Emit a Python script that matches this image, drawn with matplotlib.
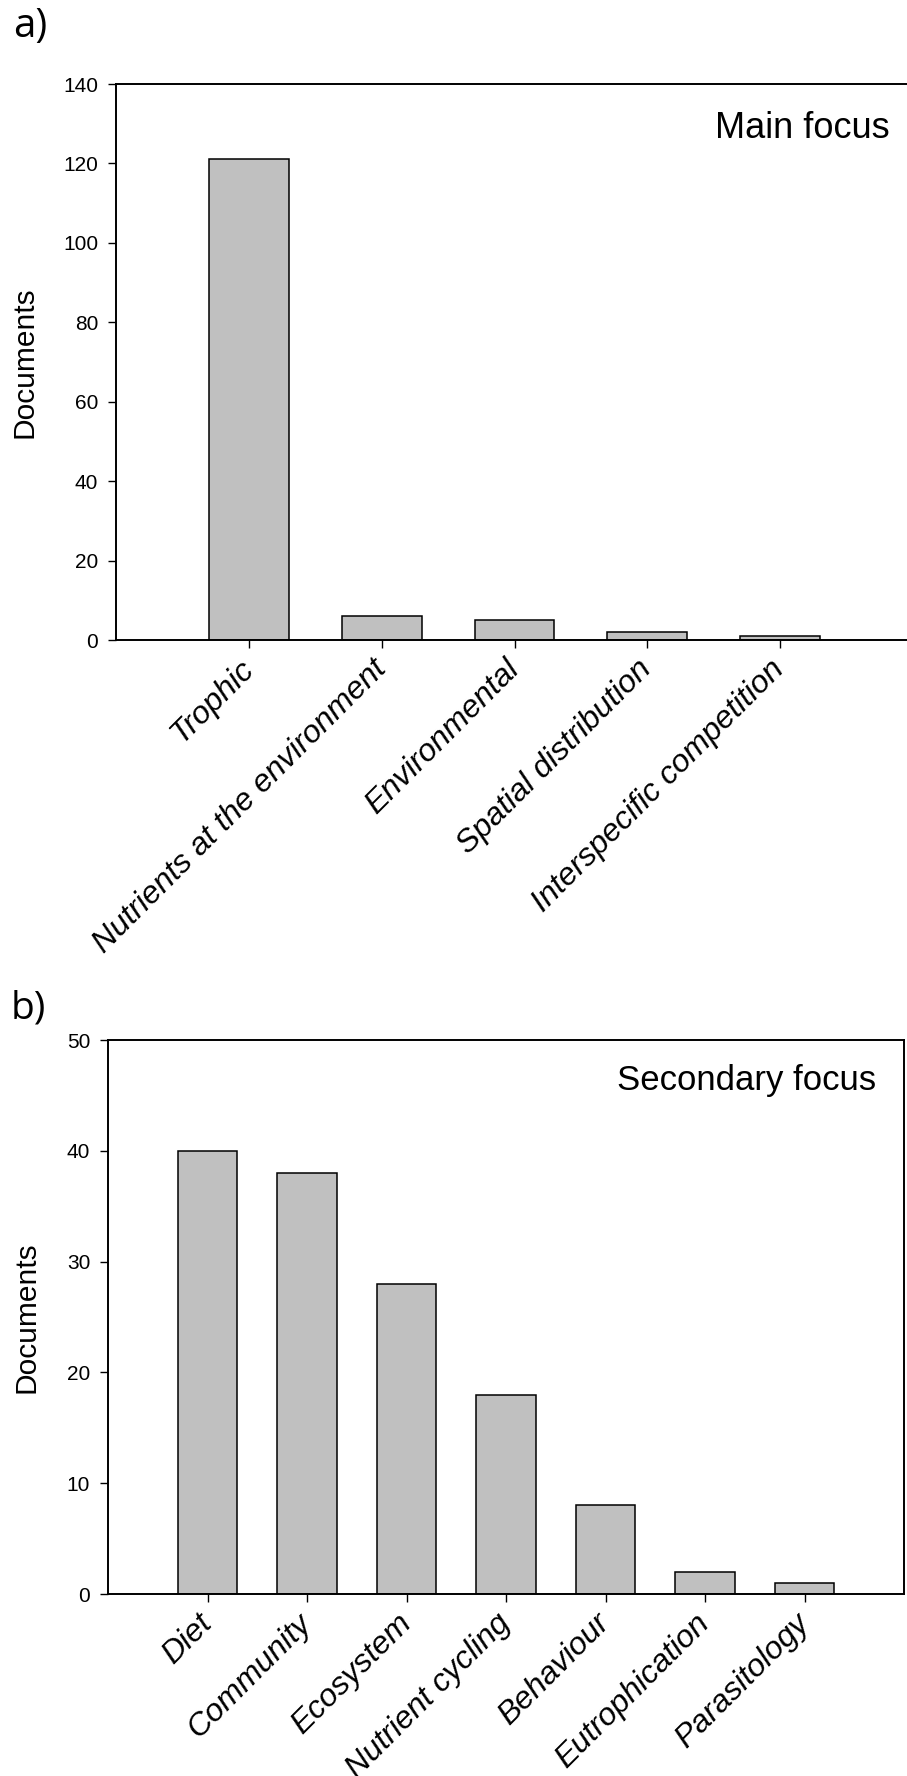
import matplotlib
matplotlib.use("Agg")
import matplotlib.pyplot as plt
import matplotlib.transforms as mtransforms
import numpy as np

plt.rcParams['font.family'] = ['Liberation Sans', 'DejaVu Sans']

# data
main_labels = ["Trophic", "Nutrients at the environment", "Environmental",
               "Spatial distribution", "Interspecific competition"]
main_docs = [121, 6, 5, 2, 1]

sec_labels = ["Diet", "Community", "Ecosystem", "Nutrient cycling",
              "Behaviour", "Eutrophication", "Parasitology"]
sec_docs = [40, 38, 28, 18, 8, 2, 1]

W, H = 907, 1776
fig = plt.figure(figsize=(W / 100, H / 100), dpi=100)


# place an axes by its pixel box (left, top, right, bottom)
def px_axes(l, t, r, b):
    return fig.add_axes([l / W, 1 - b / H, (r - l) / W, (b - t) / H])


def draw_panel(ax, labels, values, ymax, ystep, ylab_x):
    x = np.arange(len(labels))
    ax.bar(x, values, width=0.6, color='#c0c0c0', edgecolor='black', linewidth=1.1, zorder=2)
    ax.set_xlim(-1, len(labels))
    ax.set_ylim(0, ymax)
    ax.set_yticks(np.arange(0, ymax + 1, ystep))
    ax.set_xticks(x)
    ax.set_xticklabels(labels, rotation=45, ha='right', va='center',
                       rotation_mode='anchor', fontstyle='italic', fontsize=23)
    # nudge rotated labels a little to the right, like the original
    shift = mtransforms.ScaledTranslation(4 / 100, 0, fig.dpi_scale_trans)
    for lab in ax.get_xticklabels():
        lab.set_transform(lab.get_transform() + shift)
    ax.tick_params(axis='y', direction='out', length=5.8, width=1, labelsize=15, pad=7)
    ax.tick_params(axis='x', direction='out', length=5.8, width=1, pad=12)
    for s in ax.spines.values():
        s.set_linewidth(1.4)
    ax.set_ylabel("Documents", fontsize=21.5)
    ax.yaxis.set_label_coords(ylab_x, 0.5)


ax1 = px_axes(116, 84, 913, 640)
draw_panel(ax1, main_labels, main_docs, 140, 20, -0.097)
ax1.spines['right'].set_visible(False)
ax1.text(0.971, 0.903, "Main focus", transform=ax1.transAxes, ha='right',
         va='baseline', fontsize=26)

ax2 = px_axes(108, 1040, 904, 1594)
draw_panel(ax2, sec_labels, sec_docs, 50, 10, -0.085)
ax2.text(0.965, 0.91, "Secondary focus", transform=ax2.transAxes, ha='right',
         va='baseline', fontsize=25)

fig.text(13 / W, 1 - 37 / H, "a)", fontsize=29, family=['Open Sans', 'DejaVu Sans'], va='baseline')
fig.text(11 / W, 1 - 1018 / H, "b)", fontsize=28, family=['Open Sans', 'DejaVu Sans'], va='baseline')

fig.savefig("out.png", dpi=100)
